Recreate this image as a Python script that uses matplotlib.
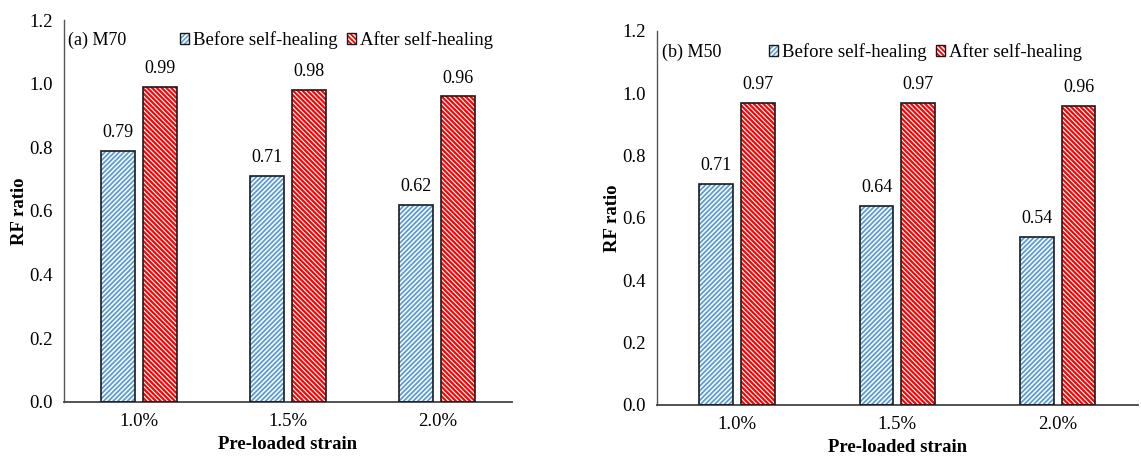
import matplotlib
matplotlib.use("Agg")
import matplotlib.pyplot as plt
import numpy as np
from matplotlib.patches import Patch
from matplotlib.legend_handler import HandlerTuple

plt.rcParams['font.family'] = ['Liberation Serif', 'DejaVu Serif']
plt.rcParams['hatch.linewidth'] = 1.1

# Data
strains = ["1.0%", "1.5%", "2.0%"]
m70_before = [0.79, 0.71, 0.62]
m70_after = [0.99, 0.98, 0.96]
m50_before = [0.71, 0.64, 0.54]
m50_after = [0.97, 0.97, 0.96]
series_names = ["Before self-healing", "After self-healing"]
yticks = [0.0, 0.2, 0.4, 0.6, 0.8, 1.0, 1.2]

BLUE = "#5B9BD5"
RED = "#FF0000"
HATCH_B = "/" * 7
HATCH_A = "\\" * 7
HLW_B = 1.3
HLW_A = 0.85


def set_hlw(artist, lw):
    if hasattr(artist, "set_hatch_linewidth"):
        artist.set_hatch_linewidth(lw)


fig = plt.figure(figsize=(11.41, 4.57), dpi=100)
ax1 = fig.add_axes([0.0561, 0.1204, 0.3926, 0.8358])
ax2 = fig.add_axes([0.5758, 0.1138, 0.4215, 0.8184])


def hatched_bars(ax, x, vals, width, face, hcolor, hatch, hlw):
    # fill + hatch layer, then a plain outline layer on top
    bars = ax.bar(x, vals, width, color=face, edgecolor=hcolor, hatch=hatch,
                  linewidth=0, zorder=2)
    for b in bars:
        set_hlw(b, hlw)
    ax.bar(x, vals, width, fill=False, edgecolor="#1a1a1a",
           linewidth=1.2, zorder=3)


def panel(ax, before, after, tag, width, gap, leg_x, leg_y):
    x = np.arange(len(strains))
    xb = x - (width + gap) / 2
    xa = x + (width + gap) / 2
    hatched_bars(ax, xb, before, width, "white", BLUE, HATCH_B, HLW_B)
    hatched_bars(ax, xa, after, width, RED, "white", HATCH_A, HLW_A)
    for xs, vs in ((xb, before), (xa, after)):
        for xi, v in zip(xs, vs):
            ax.annotate(f"{v:.2f}", (xi, v), xytext=(0, 7),
                        textcoords="offset points", ha="center", va="bottom",
                        fontsize=13)
    ax.set_xlim(-0.5, len(strains) - 0.5)
    ax.set_ylim(0, 1.2)
    ax.set_yticks(yticks)
    ax.set_yticklabels([f"{t:.1f}" for t in yticks])
    ax.set_xticks(x)
    ax.set_xticklabels(strains)
    ax.tick_params(axis="both", length=0, labelsize=13.5, pad=8)
    ax.tick_params(axis="x", pad=8)
    for s in ("top", "right"):
        ax.spines[s].set_visible(False)
    ax.spines["left"].set_color("#555555")
    ax.spines["bottom"].set_color("#444444")
    ax.spines["left"].set_linewidth(1.0)
    ax.spines["bottom"].set_linewidth(1.3)
    ax.set_ylabel("RF ratio", fontsize=13.5, fontweight="bold", labelpad=1)
    ax.set_xlabel("Pre-loaded strain", fontsize=13.5, fontweight="bold",
                  labelpad=4)
    ax.text(0.01, leg_y, tag, transform=ax.transAxes, fontsize=13,
            va="center", ha="left")
    pb = Patch(facecolor="white", edgecolor=BLUE, hatch=HATCH_B, linewidth=0)
    pa = Patch(facecolor=RED, edgecolor="white", hatch=HATCH_A, linewidth=0)
    set_hlw(pb, HLW_B)
    set_hlw(pa, HLW_A)
    handles = [
        (pb, Patch(fill=False, edgecolor="#1a1a1a", linewidth=1.0)),
        (pa, Patch(fill=False, edgecolor="#1a1a1a", linewidth=1.0)),
    ]
    ax.legend(handles, series_names, loc="center right",
              bbox_to_anchor=(leg_x, leg_y), ncol=2, frameon=False,
              fontsize=13.5, handlelength=0.5, handleheight=0.55,
              handletextpad=0.2, columnspacing=0.5, borderpad=0,
              borderaxespad=0,
              handler_map={tuple: HandlerTuple(ndivide=1, pad=0)})


panel(ax1, m70_before, m70_after, "(a) M70", 0.228, 0.054, 0.958, 0.948)
panel(ax2, m50_before, m50_after, "(b) M50", 0.21, 0.05, 0.884, 0.944)

fig.savefig("out.png", dpi=100)
